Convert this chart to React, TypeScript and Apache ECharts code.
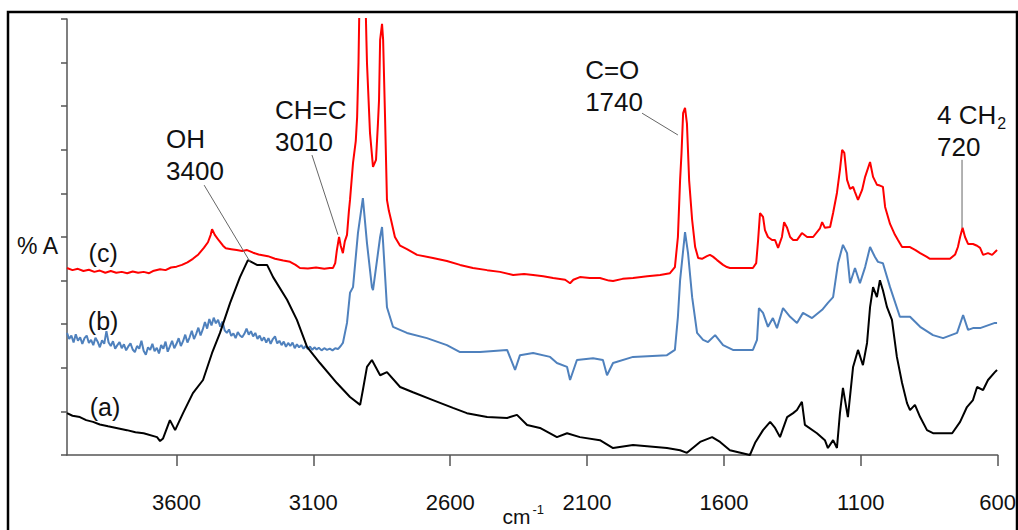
import React, { useEffect, useRef } from 'react';
import * as echarts from 'echarts';

// wavenumber ticks (cm-1), axis runs right-to-left
const X_TICKS = [3600, 3100, 2600, 2100, 1600, 1100, 600];
const X_MIN = 600;
const X_MAX = 4000;
const Y_MIN = 0;
const Y_MAX = 10;

// (c) red trace: [wavenumber, absorbance]
const SPECTRUM_C: [number, number][] = [
  [4000, 4.29], [3980, 4.24], [3960, 4.27], [3940, 4.22], [3920, 4.25], [3900, 4.2], [3880, 4.23], [3860, 4.18],
  [3840, 4.22], [3820, 4.18], [3800, 4.2], [3780, 4.17], [3760, 4.21], [3740, 4.18], [3720, 4.2], [3700, 4.17],
  [3686, 4.22], [3660, 4.26], [3640, 4.24], [3620, 4.3], [3600, 4.32], [3580, 4.36], [3560, 4.42], [3540, 4.5],
  [3520, 4.6], [3500, 4.75], [3485, 4.88], [3475, 5.05], [3470, 5.18], [3460, 5.05], [3445, 4.92], [3430, 4.8],
  [3420, 4.74], [3400, 4.72], [3380, 4.7], [3360, 4.68], [3342, 4.7], [3320, 4.64], [3300, 4.6], [3266, 4.56],
  [3240, 4.5], [3210, 4.46], [3185, 4.43], [3165, 4.36], [3149, 4.29], [3120, 4.28], [3090, 4.3], [3060, 4.27],
  [3040, 4.29], [3028, 4.29], [3020, 4.4], [3014, 4.7], [3006, 5.0], [3000, 4.8], [2992, 4.63], [2985, 4.9],
  [2977, 5.05], [2970, 5.6], [2966, 5.85], [2955, 6.7], [2945, 7.2], [2940, 7.75], [2935, 9.0], [2931, 10.6],
  [2920, 10.8], [2910, 10.6], [2906, 9.5], [2904, 8.99], [2893, 7.39], [2882, 6.61], [2871, 6.77], [2864, 7.6],
  [2860, 8.14], [2856, 9.52], [2849, 9.89], [2845, 9.52], [2838, 7.75], [2831, 5.85], [2824, 5.6], [2816, 5.39],
  [2802, 5.0], [2783, 4.8], [2758, 4.72], [2721, 4.59], [2663, 4.52], [2612, 4.45], [2564, 4.36], [2517, 4.29],
  [2465, 4.24], [2418, 4.2], [2370, 4.13], [2330, 4.15], [2297, 4.13], [2260, 4.1], [2224, 4.06], [2180, 4.02],
  [2162, 3.94], [2150, 4.02], [2126, 4.08], [2090, 4.06], [2053, 4.06], [2020, 4.0], [2005, 3.99], [1970, 4.04],
  [1932, 4.06], [1880, 4.1], [1833, 4.13], [1797, 4.17], [1779, 4.31], [1768, 5.0], [1760, 6.31], [1755, 6.9],
  [1749, 7.84], [1742, 7.96], [1735, 7.6], [1727, 6.3], [1716, 5.39], [1705, 4.77], [1694, 4.52], [1680, 4.5],
  [1662, 4.56], [1651, 4.59], [1640, 4.55], [1625, 4.47], [1603, 4.36], [1589, 4.31], [1578, 4.29], [1560, 4.29],
  [1494, 4.29], [1482, 4.4], [1475, 4.93], [1468, 5.55], [1457, 5.46], [1450, 5.16], [1439, 5.0], [1424, 4.93],
  [1413, 4.93], [1402, 4.75], [1388, 5.0], [1380, 5.34], [1369, 5.21], [1358, 5.0], [1347, 4.93], [1333, 4.93],
  [1315, 5.09], [1296, 5.0], [1274, 5.0], [1249, 5.2], [1241, 5.34], [1231, 5.21], [1212, 5.23], [1201, 5.55],
  [1187, 6.01], [1176, 6.54], [1168, 7.0], [1160, 6.93], [1150, 6.31], [1139, 6.1], [1128, 6.15], [1121, 6.03],
  [1110, 5.85], [1095, 6.08], [1084, 6.38], [1066, 6.72], [1055, 6.38], [1041, 6.2], [1030, 6.18], [1019, 6.15],
  [1011, 5.69], [993, 5.3], [975, 5.05], [964, 4.93], [949, 4.77], [920, 4.77], [900, 4.7], [883, 4.63],
  [860, 4.55], [847, 4.5], [799, 4.5], [774, 4.5], [755, 4.6], [745, 4.77], [737, 5.0], [728, 5.21],
  [719, 5.0], [708, 4.84], [690, 4.84], [675, 4.8], [664, 4.75], [653, 4.59], [635, 4.63], [620, 4.59], [602, 4.7],
];

// (b) blue trace
const SPECTRUM_B: [number, number][] = [
  [4000, 2.8], [3992, 2.66], [3984, 2.74], [3976, 2.58], [3968, 2.77], [3960, 2.62], [3952, 2.7], [3944, 2.55],
  [3936, 2.68], [3928, 2.74], [3920, 2.57], [3912, 2.64], [3904, 2.52], [3896, 2.69], [3888, 2.6], [3880, 2.47],
  [3872, 2.63], [3864, 2.55], [3856, 2.84], [3848, 2.58], [3840, 2.5], [3832, 2.61], [3824, 2.44], [3816, 2.52],
  [3808, 2.59], [3800, 2.45], [3792, 2.54], [3784, 2.4], [3776, 2.49], [3768, 2.56], [3760, 2.42], [3752, 2.36],
  [3744, 2.5], [3736, 2.44], [3728, 2.62], [3720, 2.39], [3712, 2.3], [3704, 2.47], [3696, 2.41], [3688, 2.55],
  [3680, 2.38], [3672, 2.46], [3664, 2.33], [3656, 2.52], [3648, 2.44], [3640, 2.6], [3632, 2.37], [3624, 2.49],
  [3616, 2.62], [3608, 2.45], [3600, 2.55], [3592, 2.68], [3584, 2.5], [3576, 2.61], [3568, 2.76], [3560, 2.58],
  [3552, 2.7], [3544, 2.85], [3536, 2.66], [3528, 2.78], [3520, 2.92], [3512, 2.74], [3504, 2.88], [3496, 3.05],
  [3488, 2.9], [3480, 3.12], [3472, 2.97], [3464, 3.15], [3456, 3.02], [3448, 3.1], [3440, 2.94], [3432, 3.06],
  [3424, 2.86], [3416, 2.8], [3408, 2.88], [3400, 2.73], [3392, 2.79], [3384, 2.68], [3376, 2.82], [3368, 2.74],
  [3360, 2.7], [3352, 2.78], [3344, 2.9], [3336, 2.76], [3328, 2.84], [3320, 2.72], [3312, 2.8], [3304, 2.66],
  [3296, 2.74], [3288, 2.62], [3280, 2.7], [3272, 2.58], [3264, 2.68], [3256, 2.55], [3248, 2.66], [3240, 2.72],
  [3232, 2.56], [3224, 2.62], [3216, 2.52], [3208, 2.6], [3200, 2.48], [3192, 2.57], [3184, 2.5], [3176, 2.58],
  [3168, 2.45], [3160, 2.54], [3152, 2.47], [3144, 2.52], [3136, 2.44], [3128, 2.5], [3120, 2.43], [3112, 2.49],
  [3104, 2.41], [3096, 2.47], [3088, 2.42], [3080, 2.46], [3070, 2.4], [3060, 2.45], [3050, 2.41], [3040, 2.44],
  [3030, 2.4], [3020, 2.45], [3010, 2.43], [3000, 2.5],
  [2992, 2.57], [2977, 3.03], [2966, 3.72], [2955, 3.85], [2937, 5.09], [2919, 5.89], [2904, 4.86], [2886, 3.85],
  [2882, 3.78], [2856, 5.0], [2849, 5.23], [2845, 4.86], [2831, 3.39], [2809, 2.94], [2758, 2.8], [2685, 2.68],
  [2612, 2.52], [2564, 2.36], [2491, 2.36], [2392, 2.41], [2363, 1.95], [2345, 2.29], [2297, 2.34], [2235, 2.25],
  [2210, 2.11], [2173, 2.02], [2162, 1.72], [2137, 2.18], [2078, 2.22], [2042, 2.18], [2027, 1.83], [2005, 2.11],
  [1932, 2.25], [1808, 2.29], [1779, 2.41], [1768, 3.17], [1760, 4.01], [1742, 5.11], [1731, 4.63], [1716, 3.62],
  [1698, 2.8], [1676, 2.64], [1658, 2.59], [1632, 2.75], [1603, 2.52], [1567, 2.41], [1494, 2.41], [1479, 2.64],
  [1472, 3.37], [1457, 3.26], [1439, 2.94], [1421, 3.14], [1406, 2.91], [1384, 3.37], [1358, 3.17], [1333, 3.03],
  [1311, 3.26], [1278, 3.14], [1241, 3.33], [1220, 3.49], [1201, 3.62], [1183, 4.4], [1165, 4.82], [1150, 4.63],
  [1139, 3.94], [1121, 4.29], [1103, 3.94], [1084, 4.31], [1066, 4.77], [1048, 4.54], [1037, 4.43], [1019, 4.4],
  [993, 3.85], [957, 3.17], [920, 3.17], [883, 2.94], [836, 2.75], [799, 2.68], [748, 2.8], [726, 3.21],
  [708, 2.87], [690, 2.91], [664, 2.91], [610, 3.03], [602, 3.03],
];

// (a) black trace
const SPECTRUM_A: [number, number][] = [
  [4000, 0.96], [3980, 0.9], [3953, 0.87], [3930, 0.8], [3905, 0.76], [3880, 0.7], [3850, 0.66], [3781, 0.57],
  [3750, 0.52], [3720, 0.5], [3671, 0.41], [3660, 0.32], [3649, 0.38], [3624, 0.8], [3605, 0.57], [3576, 0.96],
  [3540, 1.42], [3503, 1.72], [3470, 2.34], [3441, 2.8], [3404, 3.49], [3368, 4.08], [3339, 4.47], [3306, 4.36],
  [3269, 4.36], [3247, 4.08], [3196, 3.56], [3160, 3.1], [3123, 2.48], [3076, 2.11], [3014, 1.65], [2966, 1.33],
  [2929, 1.15], [2919, 1.49], [2904, 2.02], [2886, 2.18], [2856, 1.83], [2831, 1.9], [2783, 1.56], [2736, 1.44],
  [2663, 1.26], [2590, 1.08], [2539, 0.96], [2465, 0.87], [2392, 0.85], [2356, 0.92], [2319, 0.69], [2272, 0.62],
  [2210, 0.41], [2173, 0.5], [2126, 0.41], [2053, 0.34], [2005, 0.16], [1932, 0.23], [1808, 0.16], [1760, 0.11],
  [1735, 0.05], [1687, 0.3], [1643, 0.41], [1614, 0.3], [1578, 0.11], [1505, 0.0], [1486, 0.28], [1457, 0.57],
  [1431, 0.76], [1413, 0.62], [1395, 0.41], [1369, 0.87], [1347, 0.96], [1333, 1.03], [1315, 1.22], [1304, 0.69],
  [1260, 0.5], [1231, 0.34], [1220, 0.16], [1201, 0.34], [1187, 0.16], [1176, 0.96], [1165, 1.54], [1147, 0.87],
  [1128, 2.02], [1110, 2.41], [1092, 2.06], [1077, 2.57], [1066, 3.39], [1055, 3.85], [1041, 3.62], [1030, 4.01],
  [1019, 3.78], [1004, 3.39], [986, 3.1], [968, 2.25], [949, 1.65], [931, 1.19], [920, 1.03], [902, 1.15],
  [883, 0.87], [858, 0.57], [836, 0.5], [766, 0.5], [737, 0.76], [712, 1.1], [690, 1.26], [675, 1.56],
  [653, 1.49], [635, 1.72], [610, 1.9], [602, 1.95],
];

// peak annotations: text block centre-left, leader line from -> to (data coordinates)
const PEAK_NOTES = [
  { text: 'OH\n3400', at: [3638, 6.88], from: [3499, 6.19], to: [3331, 4.43] },
  { text: 'CH=C\n3010', at: [3240, 7.55], from: [3105, 6.88], to: [3010, 5.05] },
  { text: 'C=O\n1740', at: [2107, 8.46], from: [1899, 7.84], to: [1768, 7.34] },
  { text: '{t|4 CH}{s|2}\n{t|720}', at: [821, 7.43], from: [730, 6.77], to: [730, 5.21] },
];

const TRACE_LABELS = [
  { text: '(c)', at: [3868, 4.63] },
  { text: '(b)', at: [3868, 3.07] },
  { text: '(a)', at: [3861, 1.1] },
];

const FONT = "'Liberation Sans', Arial, Helvetica, sans-serif";
const AXIS_COLOR = '#555555';

export default function App() {
  const ref = useRef<HTMLDivElement>(null);

  useEffect(() => {
    if (!ref.current) return;
    const chart = echarts.init(ref.current, null, { renderer: 'svg' });
    const option = {
      animation: false,
      backgroundColor: '#ffffff',
      grid: { left: 67, right: 20.4, top: 19, bottom: 75, containLabel: false, outerBoundsMode: 'none' },
      xAxis: {
        type: 'value',
        min: X_MIN,
        max: X_MAX,
        inverse: true,
        name: '{b|cm}{s|-1}',
        nameLocation: 'middle',
        nameGap: 48,
        nameMoveOverlap: false,
        nameTextStyle: {
          padding: [0, 18, 0, 0],
          verticalAlign: 'top',
          rich: {
            b: { fontFamily: FONT, fontSize: 21, color: '#111', lineHeight: 24, verticalAlign: 'bottom' },
            s: { fontFamily: FONT, fontSize: 13, color: '#111', lineHeight: 24, verticalAlign: 'top', padding: [0, 0, 0, 2] },
          },
        },
        axisLine: { show: true, lineStyle: { color: AXIS_COLOR, width: 1.5 } },
        axisTick: { show: true, length: 11, customValues: X_TICKS, lineStyle: { color: AXIS_COLOR, width: 1.5 } },
        axisLabel: {
          show: true,
          customValues: X_TICKS,
          margin: 36,
          fontSize: 22,
          fontFamily: FONT,
          color: '#111',
          formatter: (v: number) => String(v),
        },
        splitLine: { show: false },
      },
      yAxis: {
        type: 'value',
        min: Y_MIN,
        max: Y_MAX,
        interval: 1,
        name: '% A',
        nameLocation: 'middle',
        nameRotate: 0,
        nameGap: 9,
        nameMoveOverlap: false,
        nameTextStyle: { fontFamily: FONT, fontSize: 23, color: '#111', lineHeight: 18, verticalAlign: 'top', align: 'right' },
        axisLine: { show: true, lineStyle: { color: AXIS_COLOR, width: 1.5 } },
        axisTick: { show: true, length: 6, lineStyle: { color: AXIS_COLOR, width: 1.5 } },
        axisLabel: { show: false },
        splitLine: { show: false },
      },
      series: [
        { name: '(b)', type: 'line', data: SPECTRUM_B, showSymbol: false, clip: true, lineStyle: { color: '#4F81BD', width: 2 }, itemStyle: { color: '#4F81BD' }, z: 2 },
        { name: '(a)', type: 'line', data: SPECTRUM_A, showSymbol: false, clip: true, lineStyle: { color: '#000000', width: 2 }, itemStyle: { color: '#000000' }, z: 3 },
        { name: '(c)', type: 'line', data: SPECTRUM_C, showSymbol: false, clip: true, lineStyle: { color: '#FF0000', width: 2 }, itemStyle: { color: '#FF0000' }, z: 4 },
      ],
    };
    chart.setOption(option);

    const px = (p: number[]) => chart.convertToPixel({ gridIndex: 0 }, p) as number[];
    const graphic: any[] = [
      {
        type: 'rect',
        silent: true,
        shape: { x: 8, y: 12, width: 1009, height: 600 },
        style: { fill: 'none', stroke: '#000', lineWidth: 2.5 },
        z: 0,
      },
    ];
    PEAK_NOTES.forEach((n) => {
      const a = px(n.at);
      const f = px(n.from);
      const t = px(n.to);
      graphic.push({
        type: 'line',
        silent: true,
        shape: { x1: f[0], y1: f[1], x2: t[0], y2: t[1] },
        style: { stroke: '#666', lineWidth: 1 },
        z: 10,
      });
      graphic.push({
        type: 'text',
        silent: true,
        x: a[0],
        y: a[1],
        style: {
          text: n.text,
          fontFamily: FONT,
          fontSize: 26,
          lineHeight: 32,
          fill: '#111',
          align: 'left',
          verticalAlign: 'middle',
          rich: {
            t: { fontFamily: FONT, fontSize: 26, lineHeight: 32, fill: '#111' },
            s: { fontFamily: FONT, fontSize: 16, lineHeight: 32, fill: '#111', verticalAlign: 'bottom', padding: [0, 0, 0, 1] },
          },
        },
        z: 10,
      });
    });
    TRACE_LABELS.forEach((l) => {
      const a = px(l.at);
      graphic.push({
        type: 'text',
        silent: true,
        x: a[0],
        y: a[1],
        style: { text: l.text, fontFamily: FONT, fontSize: 25, fill: '#111', align: 'center', verticalAlign: 'middle' },
        z: 10,
      });
    });
    chart.setOption({ graphic });

    return () => chart.dispose();
  }, []);

  return <div ref={ref} style={{ position: 'absolute', left: 0, top: 0, width: 1018, height: 530 }} />;
}
